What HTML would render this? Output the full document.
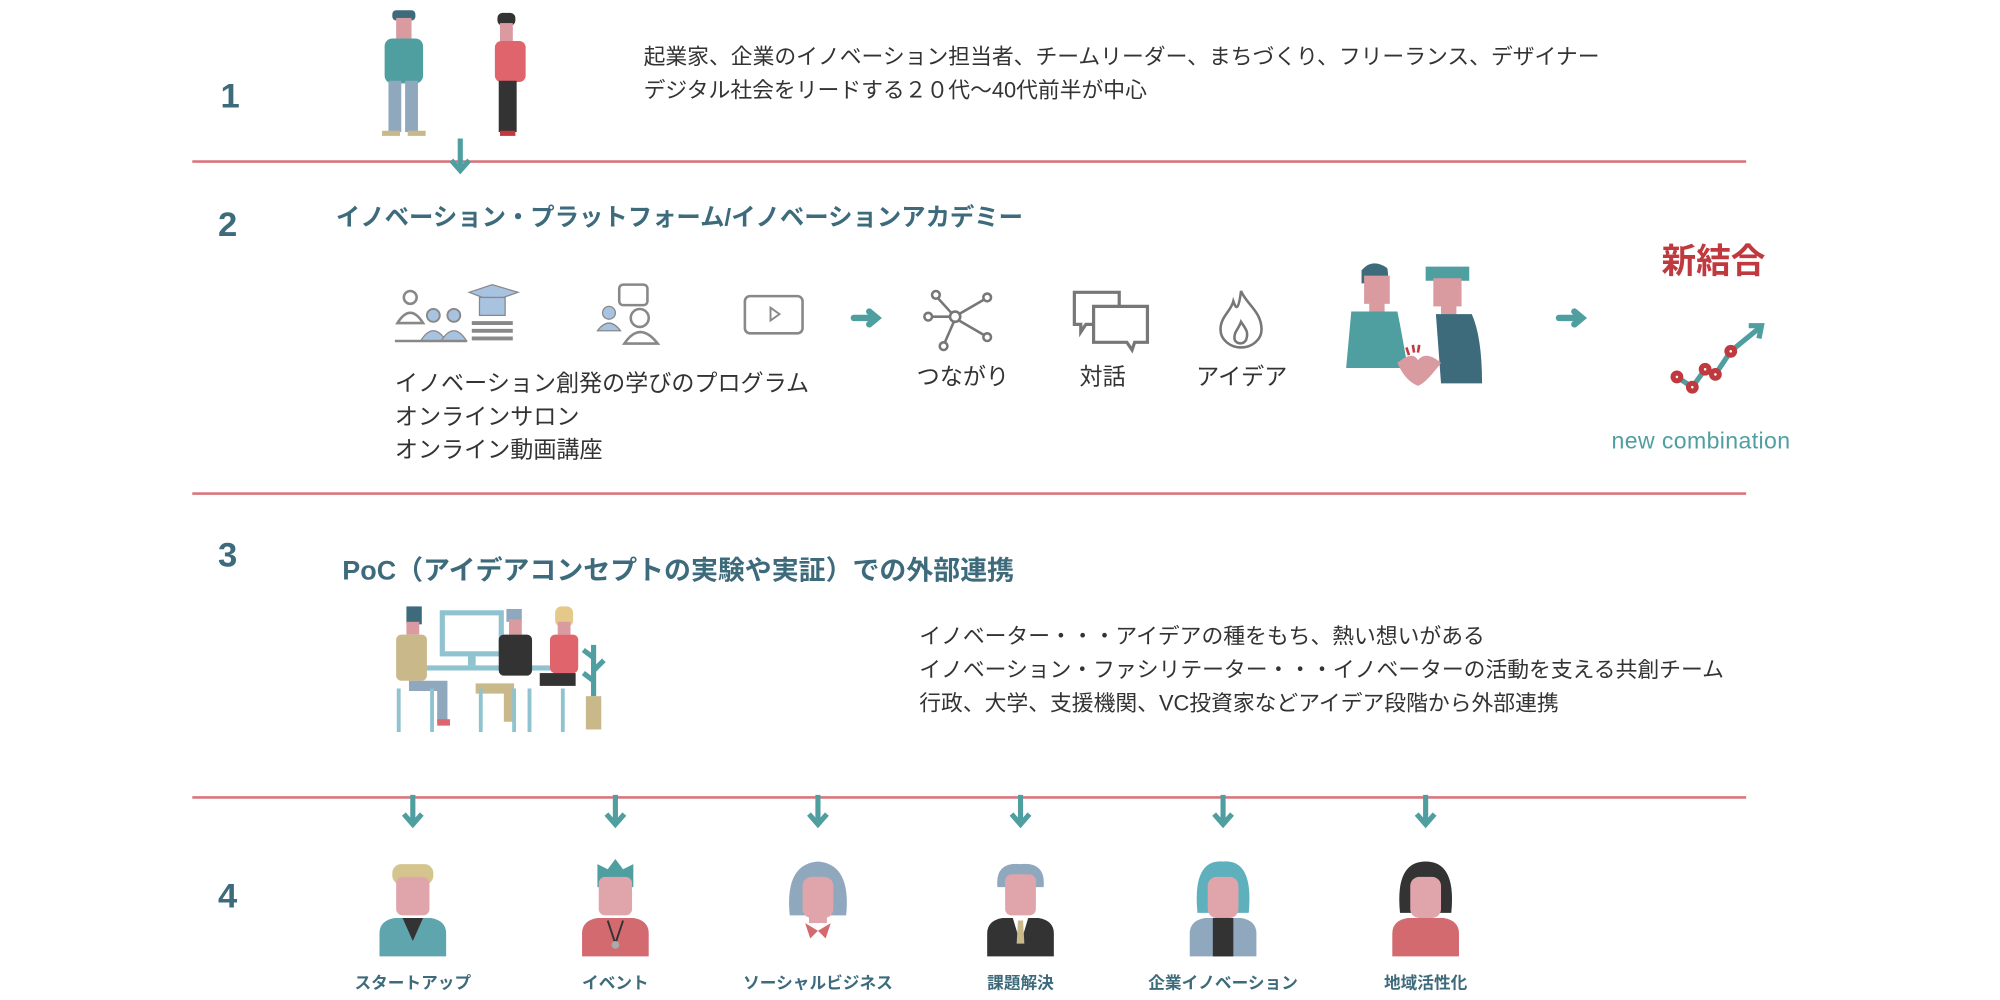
<!DOCTYPE html>
<html><head><meta charset="utf-8">
<style>
html,body{margin:0;padding:0;background:#fff;width:2000px;height:1000px;overflow:hidden}
#w{position:absolute;left:0;top:0;width:1560px;height:780px;transform:scale(1.28205);transform-origin:0 0;font-family:"Liberation Sans","Noto Sans CJK JP",sans-serif;color:#333}
.t{position:absolute;white-space:nowrap}
.ln{position:absolute;left:150px;width:1212px;height:2px;background:#d9747b}
.n{position:absolute;font-size:27px;font-weight:bold;color:#3d6b7c}
.h{color:#3d6b7c;font-weight:bold}
.b{font-size:17px;line-height:26px;color:#333}
.lab{font-size:13px;font-weight:bold;color:#3d6b7c;transform:translateX(-50%)}
svg{position:absolute;overflow:visible}
</style></head><body><div id="w">
<div class="ln" style="top:125px"></div>
<div class="ln" style="top:384px"></div>
<div class="ln" style="top:621px"></div>
<div class="n" style="left:172px;top:60px">1</div>
<div class="n" style="left:170px;top:160px">2</div>
<div class="n" style="left:170px;top:418px">3</div>
<div class="n" style="left:170px;top:684px">4</div>

<svg style="left:290px;top:8px" width="140" height="100">
 <rect x="16" y="0" width="18" height="8" rx="3" fill="#3d6b7c"/>
 <rect x="19" y="6" width="12" height="16" fill="#d99aa0"/>
 <rect x="10" y="22" width="30" height="35" rx="6" fill="#4f9ea0"/>
 <rect x="13" y="55" width="10" height="40" fill="#8fa8bd"/><rect x="26" y="55" width="10" height="40" fill="#8fa8bd"/>
 <rect x="8" y="94" width="14" height="4" fill="#c9b98a"/><rect x="28" y="94" width="14" height="4" fill="#c9b98a"/>
 <rect x="98" y="2" width="14" height="10" rx="4" fill="#333"/>
 <rect x="100" y="10" width="10" height="14" fill="#d99aa0"/>
 <rect x="96" y="24" width="24" height="32" rx="5" fill="#e0646b"/>
 <rect x="99" y="55" width="14" height="40" fill="#333"/>
 <rect x="100" y="94" width="12" height="4" fill="#c0393f"/>
</svg>
<svg style="left:350px;top:108px" width="20" height="30"><path d="M9 0V24M2 17L9 25L16 17" stroke="#4f9ea0" stroke-width="4" fill="none"/></svg>
<div class="t b" style="left:502px;top:32px">起業家、企業のイノベーション担当者、チームリーダー、まちづくり、フリーランス、デザイナー<br>デジタル社会をリードする２０代～40代前半が中心</div>

<div class="t h" style="left:262px;top:155px;font-size:19px">イノベーション・プラットフォーム/イノベーションアカデミー</div>
<svg style="left:308px;top:222px" width="100" height="48">
 <circle cx="12" cy="10" r="5" fill="none" stroke="#888" stroke-width="2"/><path d="M2 30Q12 14 22 30Z" fill="none" stroke="#888" stroke-width="2"/>
 <circle cx="30" cy="24" r="5" fill="#a8c3e0" stroke="#888" stroke-width="1.5"/><path d="M20 44Q30 28 40 44Z" fill="#a8c3e0" stroke="#888"/>
 <circle cx="46" cy="24" r="5" fill="#a8c3e0" stroke="#888" stroke-width="1.5"/><path d="M36 44Q46 28 56 44Z" fill="#a8c3e0" stroke="#888"/>
 <path d="M58 6L76 0L96 6L76 13Z" fill="#a8c3e0" stroke="#888"/><rect x="66" y="10" width="20" height="14" fill="#a8c3e0" stroke="#888"/>
 <path d="M60 30H92M60 36H92M60 42H92" stroke="#888" stroke-width="3"/><path d="M0 44H56" stroke="#888" stroke-width="2"/>
</svg>
<svg style="left:465px;top:222px" width="55" height="48">
 <rect x="18" y="0" width="22" height="16" rx="3" fill="none" stroke="#888" stroke-width="2"/>
 <circle cx="10" cy="22" r="5" fill="#a8c3e0" stroke="#888"/><path d="M1 36Q10 24 19 36Z" fill="#a8c3e0" stroke="#888"/>
 <circle cx="34" cy="26" r="7" fill="none" stroke="#888" stroke-width="2"/><path d="M22 46Q34 28 48 46Z" fill="none" stroke="#888" stroke-width="2"/>
</svg>
<svg style="left:580px;top:230px" width="50" height="32"><rect x="1" y="1" width="45" height="29" rx="4" fill="none" stroke="#888" stroke-width="2"/><path d="M21 10L28 15L21 20Z" fill="none" stroke="#888" stroke-width="1.5"/></svg>
<svg style="left:664px;top:240px" width="28" height="18"><path d="M2 8H19M14 3L20 8L14 13" stroke="#4f9ea0" stroke-width="5" fill="none" stroke-linecap="round"/></svg>
<svg style="left:720px;top:225px" width="60" height="50" fill="none" stroke="#777" stroke-width="2">
 <circle cx="25" cy="22" r="4"/><circle cx="10" cy="5" r="3"/><circle cx="50" cy="7" r="3"/><circle cx="4" cy="22" r="3"/><circle cx="50" cy="38" r="3"/><circle cx="16" cy="45" r="3"/>
 <path d="M22 19L12 8M28 20L47 9M21 22H7M28 25L47 36M24 26L17 42"/>
</svg>
<svg style="left:835px;top:225px" width="65" height="50" fill="#fff" stroke="#777" stroke-width="2.5"><path d="M3 3H38V28H12L8 34V28H3Z"/><path d="M18 14H60V42H50L48 48L44 42H18Z"/></svg>
<svg style="left:950px;top:225px" width="40" height="50" fill="none" stroke="#777" stroke-width="2"><path d="M18 2C22 12 34 18 34 32A16 14 0 0 1 2 32C2 22 10 18 12 10C14 16 16 18 18 2Z"/><path d="M18 26C22 32 24 34 22 40A5 5 0 0 1 13 40C12 34 16 32 18 26Z"/></svg>
<div class="t" style="left:715px;top:280px;font-size:18px">つながり</div>
<div class="t" style="left:842px;top:280px;font-size:18px">対話</div>
<div class="t" style="left:933px;top:280px;font-size:18px">アイデア</div>
<div class="t" style="left:308px;top:286px;font-size:18px;line-height:26px">イノベーション創発の学びのプログラム<br>オンラインサロン<br>オンライン動画講座</div>
<svg style="left:1050px;top:203px" width="115" height="100">
 <path d="M12 8Q20 -2 32 6Q34 14 30 18H12Z" fill="#3d6b7c"/><rect x="14" y="12" width="20" height="22" fill="#d99aa0"/><rect x="18" y="30" width="12" height="12" fill="#d99aa0"/>
 <path d="M4 40H40Q44 60 48 84H0Z" fill="#4f9ea0"/>
 <path d="M62 5H96V16H62Z" fill="#4f9ea0"/><rect x="68" y="14" width="22" height="22" fill="#d99aa0"/><rect x="74" y="32" width="12" height="12" fill="#d99aa0"/>
 <path d="M70 42H98Q106 60 106 96H74Z" fill="#3d6b7c"/>
 <path d="M40 80Q52 70 56 78Q62 70 74 80Q62 96 56 98Q46 94 40 80Z" fill="#d99aa0"/>
 <path d="M47 68L49 74M52 66L53 72M57 66L56 72" stroke="#c0393f" stroke-width="2"/>
</svg>
<svg style="left:1214px;top:240px" width="28" height="18"><path d="M2 8H19M14 3L20 8L14 13" stroke="#4f9ea0" stroke-width="5" fill="none" stroke-linecap="round"/></svg>
<div class="t" style="left:1296px;top:182px;font-size:27px;color:#c0393f;font-weight:bold">新結合</div>
<svg style="left:1300px;top:250px" width="85" height="60">
 <path d="M8 44L20 52L30 38L38 42L50 24L72 6" stroke="#4f9ea0" stroke-width="4" fill="none"/><path d="M64 4L74 4L72 14" stroke="#4f9ea0" stroke-width="4" fill="none"/>
 <g fill="#fff" stroke="#c0393f" stroke-width="4"><circle cx="8" cy="44" r="3"/><circle cx="20" cy="52" r="3"/><circle cx="30" cy="38" r="3"/><circle cx="38" cy="42" r="3"/><circle cx="50" cy="24" r="3"/></g>
</svg>
<div class="t" style="left:1257px;top:334px;font-size:18px;color:#4f9ea0;letter-spacing:0.3px">new combination</div>

<div class="t h" style="left:267px;top:429px;font-size:21px">PoC（アイデアコンセプトの実験や実証）での外部連携</div>
<svg style="left:305px;top:473px" width="175" height="100">
 <rect x="40" y="5" width="46" height="32" fill="#fff" stroke="#8fc3d0" stroke-width="4"/><rect x="60" y="36" width="6" height="10" fill="#8fc3d0"/>
 <rect x="20" y="46" width="120" height="4" fill="#8fc3d0"/>
 <rect x="12" y="0" width="12" height="14" fill="#3d6b7c"/><rect x="12" y="12" width="10" height="10" fill="#d99aa0"/><rect x="4" y="22" width="24" height="36" rx="4" fill="#c9b98a"/>
 <path d="M14 58H44V90H36V66H14Z" fill="#8fa8bd"/><rect x="36" y="88" width="10" height="5" fill="#e0646b"/>
 <rect x="90" y="2" width="12" height="10" fill="#8fa8bd"/><rect x="92" y="10" width="10" height="12" fill="#d99aa0"/><rect x="84" y="22" width="26" height="32" rx="4" fill="#333"/>
 <path d="M66 60H96V90H88V68H66Z" fill="#c9b98a"/>
 <rect x="128" y="0" width="14" height="16" rx="5" fill="#e5c98a"/><rect x="130" y="12" width="10" height="10" fill="#d99aa0"/><rect x="124" y="22" width="22" height="30" rx="4" fill="#e0646b"/>
 <rect x="116" y="52" width="28" height="10" fill="#333"/>
 <path d="M6 64V98M32 64V98M70 64V98M96 64V98M108 64V98M134 64V98" stroke="#8fc3d0" stroke-width="3"/>
 <rect x="152" y="70" width="12" height="26" fill="#c9b98a"/><path d="M158 70V30M158 40L150 34M158 50L166 42M158 58L150 52" stroke="#4f9ea0" stroke-width="4"/>
</svg>
<div class="t b" style="left:717px;top:484px">イノベーター・・・アイデアの種をもち、熱い想いがある<br>イノベーション・ファシリテーター・・・イノベーターの活動を支える共創チーム<br>行政、大学、支援機関、VC投資家などアイデア段階から外部連携</div>

<svg style="left:0;top:620px" width="1560" height="30"><g stroke="#4f9ea0" stroke-width="4" fill="none">
<path d="M322 0V22M315 15L322 23L329 15"/><path d="M480 0V22M473 15L480 23L487 15"/><path d="M638 0V22M631 15L638 23L645 15"/><path d="M796 0V22M789 15L796 23L803 15"/><path d="M954 0V22M947 15L954 23L961 15"/><path d="M1112 0V22M1105 15L1112 23L1119 15"/></g></svg>

<svg style="left:0;top:670px" width="1560" height="80">
 <g transform="translate(322,0)"><rect x="-16" y="4" width="32" height="16" rx="7" fill="#d4c48e"/><rect x="-13" y="14" width="26" height="30" rx="5" fill="#e0a5aa"/><path d="M-26 76V58Q-26 48 -14 46H14Q26 48 26 58V76Z" fill="#5fa5ad"/><path d="M-8 46L0 64L8 46Z" fill="#333"/></g>
 <g transform="translate(480,0)"><path d="M-14 22L-14 4L-6 8L0 0L6 8L14 4L14 22Z" fill="#4f9ea0"/><rect x="-13" y="14" width="26" height="30" rx="5" fill="#e0a5aa"/><path d="M-26 76V58Q-26 48 -14 46H14Q26 48 26 58V76Z" fill="#d26a70"/><path d="M-6 48L0 66L6 48" stroke="#333" stroke-width="1.5" fill="none"/><circle cx="0" cy="67" r="3" fill="#aaa"/></g>
 <g transform="translate(638,0)"><path d="M-22 44Q-26 4 0 2Q26 4 22 44Z" fill="#8fa8bd"/><rect x="-12" y="14" width="24" height="32" rx="7" fill="#e0a5aa"/><rect x="-7" y="40" width="14" height="10" fill="#e0a5aa"/><path d="M-10 50L0 56L10 50L6 62L0 56L-6 62Z" fill="#d26a70"/></g>
 <g transform="translate(796,0)"><path d="M-18 22Q-20 2 0 4Q20 2 18 22Z" fill="#8fa8bd"/><rect x="-12" y="12" width="24" height="32" rx="5" fill="#e0a5aa"/><path d="M-26 76V58Q-26 48 -14 46H14Q26 48 26 58V76Z" fill="#333"/><path d="M-6 46L0 66L6 46Z" fill="#fff"/><path d="M-2 48H2L3 66H-3Z" fill="#c9b98a"/></g>
 <g transform="translate(954,0)"><path d="M-20 42Q-24 0 0 2Q24 0 20 42Z" fill="#5fb0bd"/><rect x="-12" y="14" width="24" height="32" rx="7" fill="#e0a5aa"/><path d="M-26 76V58Q-26 48 -14 46H14Q26 48 26 58V76Z" fill="#8fa8bd"/><rect x="-8" y="46" width="16" height="30" fill="#333"/></g>
 <g transform="translate(1112,0)"><path d="M-20 42Q-24 2 0 2Q24 2 20 42Z" fill="#333"/><rect x="-12" y="14" width="24" height="32" rx="7" fill="#e0a5aa"/><path d="M-26 76V58Q-26 48 -14 46H14Q26 48 26 58V76Z" fill="#d26a70"/></g>
</svg>
<div class="t lab" style="left:322px;top:756px">スタートアップ</div>
<div class="t lab" style="left:480px;top:756px">イベント</div>
<div class="t lab" style="left:638px;top:756px">ソーシャルビジネス</div>
<div class="t lab" style="left:796px;top:756px">課題解決</div>
<div class="t lab" style="left:954px;top:756px">企業イノベーション</div>
<div class="t lab" style="left:1112px;top:756px">地域活性化</div>
</div></body></html>
